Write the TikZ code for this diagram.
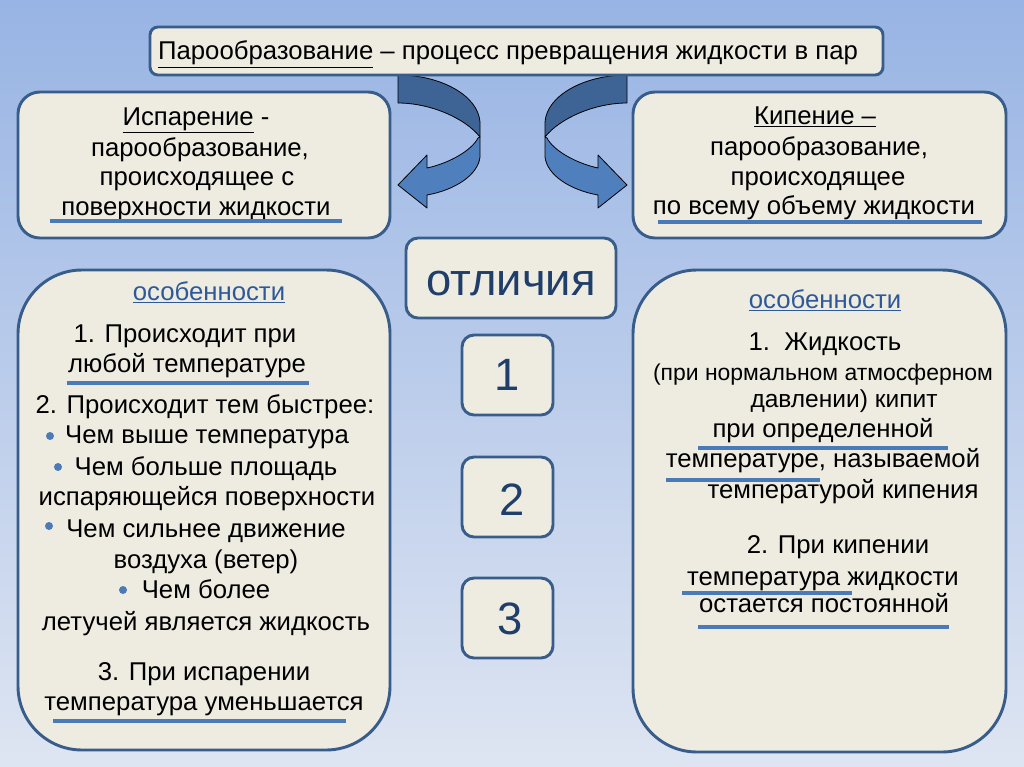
\documentclass[tikz,border=0pt]{standalone}
\usepackage{fontspec}
\setmainfont{Liberation Sans}
\definecolor{bgtop}{RGB}{152,180,228}
\definecolor{bgbot}{RGB}{222,229,242}
\definecolor{cream}{RGB}{238,236,225}
\definecolor{frame}{RGB}{56,93,138}
\definecolor{ulblue}{RGB}{74,122,184}
\definecolor{linkblue}{RGB}{46,89,153}
\definecolor{darkblue}{RGB}{31,62,105}
\definecolor{arrdark}{RGB}{62,100,150}
\definecolor{arrlight}{RGB}{80,127,190}
\begin{document}
\begin{tikzpicture}[x=0.75pt,y=-0.75pt,
 box/.style={draw=frame, line width=2.2pt, fill=cream, inner sep=0pt},
 t/.style={font=\fontsize{19.3}{23}\selectfont, anchor=base, inner sep=0pt},
 tsmall/.style={font=\fontsize{17.2}{21}\selectfont, anchor=base, inner sep=0pt},
 tmid/.style={font=\fontsize{18.4}{22}\selectfont, anchor=base, inner sep=0pt},
 big/.style={font=\fontsize{34}{38}\selectfont, anchor=base, inner sep=0pt, text=darkblue},
 uline/.style={draw=ulblue, line width=3pt},
 bul/.style={circle, fill=ulblue, inner sep=0pt, minimum size=6pt},
 ribdark/.style={fill=arrdark, draw=black, line width=0.6pt, line join=round},
 riblight/.style={fill=arrlight, draw=black, line width=0.6pt, line join=round}]
\useasboundingbox (0,0) rectangle (1024,767);
\shade[top color=bgtop, bottom color=bgbot] (0,0) rectangle (1024,767);

% arrows
\draw[ribdark] (398,75) .. controls (440,75) and (478,95) .. (480,122) -- (480,137) .. controls (465,118) and (430,103) .. (398,103) -- cycle;
\draw[riblight] (480,137) -- (480,157) .. controls (478,175) and (455,190) .. (427,195) -- (427,208) -- (398,185) -- (427,155) -- (427,168) .. controls (450,163) and (472,150) .. (478,138) -- cycle;
\draw[ribdark] (627,75) .. controls (585,75) and (547,95) .. (545,122) -- (545,137) .. controls (560,118) and (595,103) .. (627,103) -- cycle;
\draw[riblight] (545,137) -- (545,157) .. controls (547,175) and (570,190) .. (598,195) -- (598,208) -- (627,185) -- (598,155) -- (598,168) .. controls (575,163) and (553,150) .. (547,138) -- cycle;

% boxes
\node[box, rounded corners=6pt, minimum width=549.75pt, minimum height=36pt] (top) at (516.5,51) {};
\node[box, rounded corners=16.5pt, minimum width=279pt, minimum height=109.5pt] (lup) at (204,165) {};
\node[box, rounded corners=16.5pt, minimum width=279.75pt, minimum height=109.5pt] (rup) at (819.5,165) {};
\node[box, rounded corners=9pt, minimum width=157.5pt, minimum height=60pt] (otl) at (511,278) {};
\node[box, rounded corners=9pt, minimum width=68.25pt, minimum height=60pt] (n1) at (507.5,375) {};
\node[box, rounded corners=9pt, minimum width=68.25pt, minimum height=60pt] (n2) at (507.5,497) {};
\node[box, rounded corners=9pt, minimum width=68.25pt, minimum height=60pt] (n3) at (507.5,618) {};
\node[box, rounded corners=48pt, minimum width=279pt, minimum height=360pt] (lbig) at (204,510) {};
\node[box, rounded corners=48pt, minimum width=279.75pt, minimum height=361.5pt] (rbig) at (819.5,511) {};

% top text
\node[t] (ttl) at (508,60) {\underline{Парообразование} – процесс превращения жидкости в пар};

% left upper
\node[t] (lu1) at (196,125) {\underline{Испарение} -};
\node[t] (lu2) at (200,156) {парообразование,};
\node[t] (lu3) at (197,185) {происходящее с};
\node[t] (lu4) at (196,215) {поверхности жидкости};
\draw[uline] (50,221) -- (342,221);

% right upper
\node[t] (ru1) at (815,124) {\underline{Кипение –}};
\node[t] (ru2) at (819,155) {парообразование,};
\node[t] (ru3) at (818,185) {происходящее};
\node[t] (ru4) at (814,214) {по всему объему жидкости};
\draw[uline] (658,222) -- (982,222);

% centre
\node[big] (otxt) at (511,295) {отличия};
\node[big] (d1) at (507,390) {1};
\node[big] (d2) at (512,515) {2};
\node[big] (d3) at (510,634) {3};

% left big
\node[t, text=linkblue] (lo) at (209,300) {\underline{особенности}};
\node[t] (la1) at (185,342) {1. Происходит при};
\node[t] (la2) at (187,372) {любой температуре};
\draw[uline] (67,383) -- (309,383);
\node[t] (lb0) at (205,413) {2. Происходит тем быстрее:};
\node[t] (lb1) at (207,443) {Чем выше температура};
\node[bul] (bu1) at (50,436) {};
\node[t] (lb2) at (206,475) {Чем больше площадь};
\node[bul] (bu2) at (58,467) {};
\node[t] (lb3) at (207,505) {испаряющейся поверхности};
\node[t] (lb4) at (206,537) {Чем сильнее движение};
\node[bul] (bu3) at (49,526) {};
\node[t] (lb5) at (206,568) {воздуха (ветер)};
\node[t] (lb6) at (206,598) {Чем более};
\node[bul] (bu4) at (123,590) {};
\node[t] (lb7) at (206,630) {летучей является жидкость};
\node[t] (lc1) at (204,680) {3. При испарении};
\node[t] (lc2) at (204,710) {температура уменьшается};
\draw[uline] (53,721) -- (346,721);

% right big
\node[t, text=linkblue] (ro) at (825,308) {\underline{особенности}};
\node[t] (ra1) at (825,350) {1.\ \ Жидкость};
\node[tsmall] (ra2) at (823,380) {(при нормальном атмосферном};
\node[tmid] (ra3) at (844,407) {давлении) кипит};
\node[t] (ra4) at (823,437) {при определенной};
\draw[uline] (698,448) -- (948,448);
\node[t] (ra5) at (823,467) {температуре, называемой};
\draw[uline] (666,480) -- (820,480);
\node[t] (ra6) at (843,498) {температурой кипения};
\node[t] (rb1) at (838,553) {2. При кипении};
\node[t] (rb2) at (823,585) {температура жидкости};
\draw[uline] (682,593) -- (852,593);
\node[t] (rb3) at (824,612) {остается постоянной};
\draw[uline] (698,627) -- (949,627);
\end{tikzpicture}
\end{document}
